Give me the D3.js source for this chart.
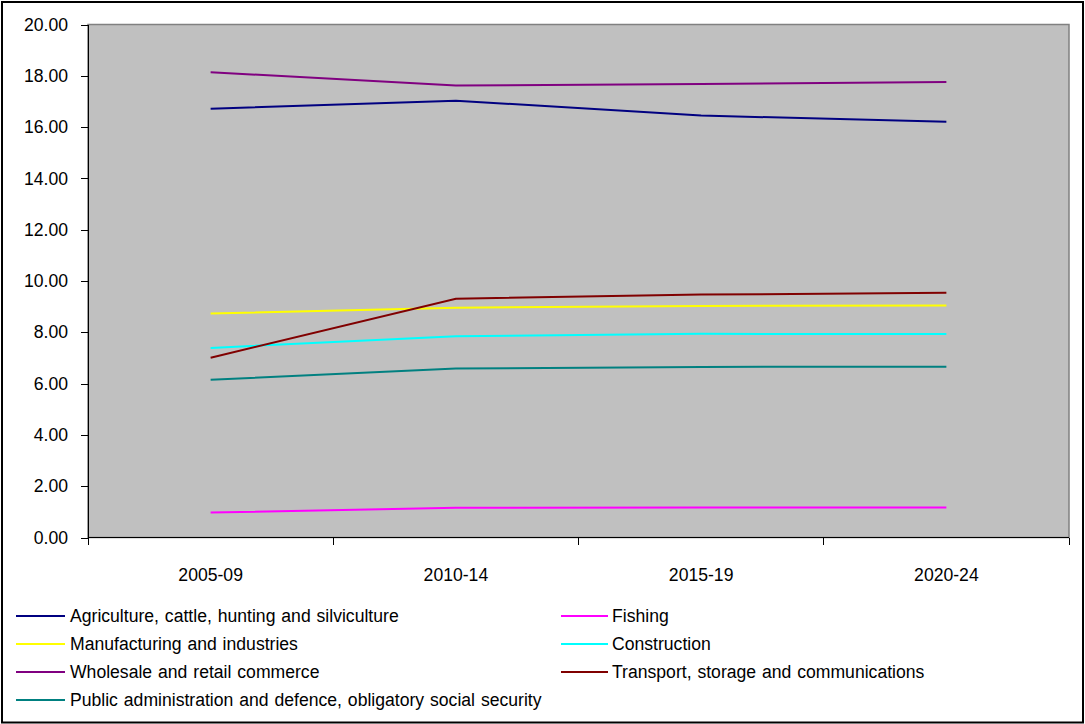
<!DOCTYPE html>
<html>
<head>
<meta charset="utf-8">
<script src="https://cdn.jsdelivr.net/npm/d3@7"></script>
<style>
  body { margin: 0; background: #fff; }
  svg text { font-family: "Liberation Sans", Arial, sans-serif; fill: #000; }
  .axis path, .axis line { stroke: #000; shape-rendering: crispEdges; }
</style>
</head>
<body>
<div id="chart"></div>
<script>
var periods = ["2005-09", "2010-14", "2015-19", "2020-24"];

var seriesNames = [
  "Agriculture, cattle, hunting and silviculture",
  "Fishing",
  "Manufacturing and industries",
  "Construction",
  "Wholesale and retail commerce",
  "Transport, storage and communications",
  "Public administration and defence, obligatory social security"
];

var agriculture   = [16.72, 17.03, 16.45, 16.21];
var fishing       = [0.97, 1.16, 1.17, 1.17];
var manufacturing = [8.73, 8.96, 9.03, 9.04];
var construction  = [7.39, 7.85, 7.94, 7.93];
var wholesale     = [18.14, 17.62, 17.68, 17.76];
var transport     = [7.01, 9.31, 9.47, 9.54];
var publicAdmin   = [6.15, 6.59, 6.65, 6.66];

var seriesColors = ["#000080", "#FF00FF", "#FFFF00", "#00FFFF", "#800080", "#800000", "#008080"];

var yTicks = [0, 2, 4, 6, 8, 10, 12, 14, 16, 18, 20];

var series = [agriculture, fishing, manufacturing, construction, wholesale, transport, publicAdmin]
  .map(function(vals, i) {
    return { name: seriesNames[i], color: seriesColors[i], values: vals };
  });

var width = 1085, height = 724;
var plot = { left: 88, top: 24.5, right: 1069, bottom: 537.5 };
var fontSize = "17.6px";

var svg = d3.select("#chart").append("svg")
    .attr("width", width)
    .attr("height", height);

// outer frame
svg.append("rect")
    .attr("x", 2).attr("y", 2)
    .attr("width", width - 4).attr("height", height - 3.5)
    .attr("fill", "#fff")
    .attr("stroke", "#000")
    .attr("stroke-width", 2);

var x = d3.scaleBand()
    .domain(periods)
    .range([plot.left, plot.right])
    .padding(0);

var y = d3.scaleLinear()
    .domain([0, 20])
    .range([plot.bottom, plot.top]);

// grey plot area
svg.append("rect")
    .attr("x", plot.left).attr("y", plot.top)
    .attr("width", plot.right - plot.left)
    .attr("height", plot.bottom - plot.top)
    .attr("fill", "#C0C0C0")
    .attr("stroke", "#808080")
    .attr("stroke-width", 1.5);

// y axis
var yAxis = d3.axisLeft(y)
    .tickValues(yTicks)
    .tickFormat(d3.format(".2f"))
    .tickSize(7)
    .tickSizeOuter(0)
    .tickPadding(13);

var gy = svg.append("g")
    .attr("class", "axis")
    .attr("transform", "translate(" + plot.left + ",0)")
    .call(yAxis);
gy.selectAll("text").style("font-size", fontSize);

// x axis, ticks sit on the category boundaries
var xAxis = d3.axisBottom(x)
    .tickSize(0)
    .tickPadding(31);

var gx = svg.append("g")
    .attr("class", "axis")
    .attr("transform", "translate(0," + plot.bottom + ")")
    .call(xAxis);
gx.select(".domain").attr("d", "M" + plot.left + ",0H" + plot.right);
gx.selectAll("text").style("font-size", fontSize);

var bounds = periods.map(function(p) { return x(p); }).concat([plot.right]);
gx.selectAll(".bound")
    .data(bounds)
    .enter().append("line")
    .attr("class", "bound")
    .attr("x1", function(d) { return d; })
    .attr("x2", function(d) { return d; })
    .attr("y1", 0)
    .attr("y2", 7)
    .attr("stroke", "#000");

// series lines
var line = d3.line()
    .x(function(d, i) { return x(periods[i]) + x.bandwidth() / 2; })
    .y(function(d) { return y(d); });

svg.append("g").selectAll("path")
    .data(series)
    .enter().append("path")
    .attr("d", function(d) { return line(d.values); })
    .attr("fill", "none")
    .attr("stroke", function(d) { return d.color; })
    .attr("stroke-width", 2);

// legend, two columns filled row by row
var legend = svg.append("g").attr("class", "legend");
var rowGap = 28, firstRow = 616;
var cols = [{ x1: 16, x2: 65, tx: 70 }, { x1: 561, x2: 608, tx: 612 }];

var item = legend.selectAll("g")
    .data(series)
    .enter().append("g")
    .attr("transform", function(d, i) {
      return "translate(0," + (firstRow + Math.floor(i / 2) * rowGap) + ")";
    });

item.append("line")
    .attr("x1", function(d, i) { return cols[i % 2].x1; })
    .attr("x2", function(d, i) { return cols[i % 2].x2; })
    .attr("stroke", function(d) { return d.color; })
    .attr("stroke-width", 2);

item.append("text")
    .attr("x", function(d, i) { return cols[i % 2].tx; })
    .attr("dy", "0.35em")
    .style("font-size", fontSize)
    .style("word-spacing", "1px")
    .text(function(d) { return d.name; });
</script>
</body>
</html>
